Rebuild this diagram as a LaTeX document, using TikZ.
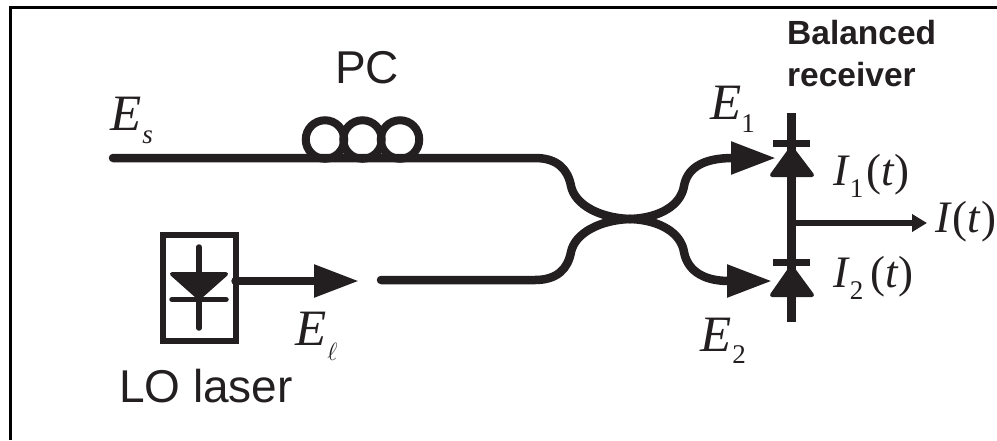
\documentclass[tikz,border=0pt]{standalone}
\usepackage{fontspec}
\setmainfont{Liberation Sans}
\newfontfamily\tnr{Liberation Serif}
\usetikzlibrary{arrows.meta}
\definecolor{ink}{HTML}{231F20}
\newcommand{\mathsub}[2]{\raisebox{-#1pt}{\fontsize{27}{27}\selectfont #2}}
\tikzset{
  x=1pt,y=-1pt,
  frameline/.style={line width=3pt,black},
  fiber/.style={line width=8.5pt,ink,line cap=round},
  bigarrow/.style={fiber,-{Triangle[length=45pt,width=31pt]}},
  outarrow/.style={line width=6pt,ink,-{Triangle[length=15pt,width=17pt]}},
  coil/.style={draw=ink,line width=8pt,circle,minimum size=38.5pt,inner sep=0pt,outer sep=0pt},
  wire/.style={line width=9pt,ink},
  bar/.style={line width=7.5pt,ink},
  thinwire/.style={line width=5.5pt,ink,line cap=round},
  diodefill/.style={fill=ink,draw=ink,line width=4pt,line join=round},
  sans/.style={inner sep=0pt,text=ink,font=\fontsize{46}{46}\selectfont},
  boldlabel/.style={inner sep=0pt,text=ink,align=left,font=\fontsize{33.5}{42}\selectfont\bfseries},
  symbol/.style={inner sep=0pt,anchor=base west,text=ink,font=\tnr\fontsize{51}{51}\selectfont},
  isymbol/.style={inner sep=0pt,anchor=base west,text=ink,font=\tnr\fontsize{45}{45}\selectfont},
  laserbox/.style={draw=ink,line width=6pt,minimum width=73pt,minimum height=106pt,inner sep=0pt,outer sep=0pt},
}
\begin{document}
\begin{tikzpicture}
\useasboundingbox (0,0) rectangle (997,440);
% frame
\coordinate (fTR) at (997,7);
\coordinate (fTL) at (10,7);
\coordinate (fBL) at (10,440);
\draw[frameline] (fTR) -- (fTL) -- (fBL);

% fibre coordinates
\coordinate (sigStart) at (113,158);
\coordinate (sigBend) at (535,158);
\coordinate (loStart) at (381,280);
\coordinate (loBend) at (535,280);
\coordinate (center) at (630,219);
\coordinate (tip1) at (776,158);
\coordinate (tip2) at (772,281);

% polarization controller
\node[coil] (c1) at (325,139.5) {};
\node[coil] (c2) at (362.5,139.5) {};
\node[coil] (c3) at (400,139.5) {};
\node[sans] (pc) at (367,68) {PC};

% signal arm and LO arm through the coupler
\draw[fiber] (sigStart) -- (sigBend)
  .. controls (558,158) and (568,170) .. (571,186)
  .. controls (575,205) and (600,218) .. (center);
\draw[bigarrow] (center)
  .. controls (660,218) and (681,205) .. (684,186)
  .. controls (687,170) and (700,158) .. (tip1);
\draw[fiber] (loStart) -- (loBend)
  .. controls (558,280) and (568,268) .. (571,252)
  .. controls (575,233) and (600,220) .. (center);
\draw[bigarrow] (center)
  .. controls (660,220) and (681,233) .. (684,252)
  .. controls (687,268) and (700,281) .. (tip2);

% LO laser
\node[laserbox] (laser) at (199,288) {};
\coordinate (lTop) at (199,247);
\coordinate (lBot) at (199,328);
\draw[thinwire] (lTop) -- (lBot);
\coordinate (lA) at (172,274);
\coordinate (lB) at (226,274);
\coordinate (lC) at (199,298);
\draw[diodefill] (lA) -- (lB) -- (lC) -- cycle;
\coordinate (lbL) at (172,299.5);
\coordinate (lbR) at (226,299.5);
\draw[thinwire] (lbL) -- (lbR);
\coordinate (loTip) at (359,281);
\draw[bigarrow] (laser.east) ++(0,-7) coordinate (laserOut) -- (loTip);
\node[sans,anchor=base] (lolabel) at (206,402) {LO laser};

% balanced receiver
\coordinate (rTop) at (791.5,113);
\coordinate (rBot) at (791.5,322);
\draw[wire] (rTop) -- (rBot);
\coordinate (b1L) at (773,143.5);
\coordinate (b1R) at (810,143.5);
\draw[bar] (b1L) -- (b1R);
\coordinate (t1L) at (772,175);
\coordinate (t1R) at (812,175);
\coordinate (t1T) at (791.5,148);
\draw[diodefill] (t1L) -- (t1R) -- (t1T) -- cycle;
\coordinate (b2L) at (773,262.5);
\coordinate (b2R) at (810,262.5);
\draw[bar] (b2L) -- (b2R);
\coordinate (t2L) at (772,295);
\coordinate (t2R) at (812,295);
\coordinate (t2T) at (791.5,267);
\draw[diodefill] (t2L) -- (t2R) -- (t2T) -- cycle;
\coordinate (outStart) at (791.5,223);
\coordinate (outTip) at (927,223);
\draw[outarrow] (outStart) -- (outTip);
\node[boldlabel,anchor=north west] (rx) at (787,20) {Balanced\\receiver};

% symbols
\node[symbol] (es) at (110,130) {\textit{E}\hspace{1pt}\mathsub{13}{\textit{s}}};
\node[symbol] (el) at (295,345) {\textit{E}\hspace{1pt}\mathsub{15}{$\ell$}};
\node[symbol] (e1) at (710,119) {\textit{E}\mathsub{13}{1}};
\node[symbol] (e2) at (700,351) {\textit{E}\hspace{1pt}\mathsub{12}{2}};
\node[isymbol] (i1) at (833,185) {\textit{I}\mathsub{12}{1}\hspace{3pt}(\textit{t})};
\node[isymbol] (i2) at (833,287) {\textit{I}\mathsub{12}{2}\hspace{7pt}(\textit{t})};
\node[isymbol] (it) at (935,232) {\textit{I}\hspace{1pt}(\textit{t})};
\end{tikzpicture}
\end{document}
